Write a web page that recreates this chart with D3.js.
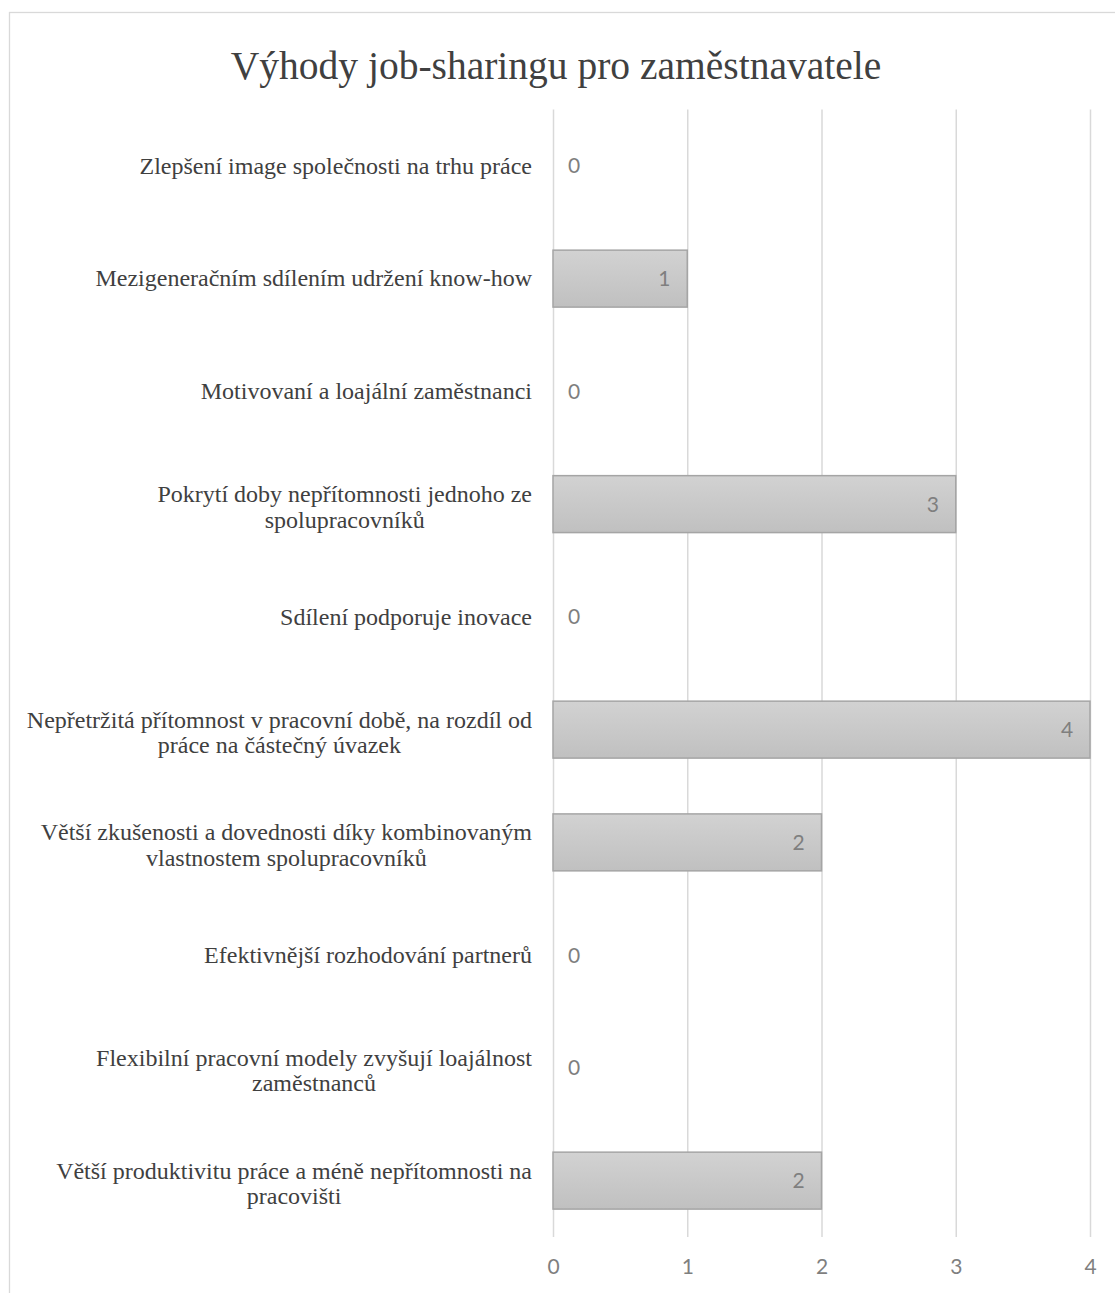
<!DOCTYPE html>
<html>
<head>
<meta charset="utf-8">
<script src="https://cdn.jsdelivr.net/npm/d3@7"></script>
<style>
  html, body { margin: 0; padding: 0; background: #fff; }
  svg { display: block; }
</style>
</head>
<body>
<svg id="chart" width="1115" height="1293"></svg>
<script>
// Category labels, top to bottom; "\n" marks a line break
const categories = [
  "Zlepšení image společnosti na trhu práce",
  "Mezigeneračním sdílením udržení know-how",
  "Motivovaní a loajální zaměstnanci",
  "Pokrytí doby nepřítomnosti jednoho ze\nspolupracovníků",
  "Sdílení podporuje inovace",
  "Nepřetržitá přítomnost v pracovní době, na rozdíl od\npráce na částečný úvazek",
  "Větší zkušenosti a dovednosti díky kombinovaným\nvlastnostem spolupracovníků",
  "Efektivnější rozhodování partnerů",
  "Flexibilní pracovní modely zvyšují loajálnost\nzaměstnanců",
  "Větší produktivitu práce a méně nepřítomnosti na\npracovišti"
];
const values = [0, 1, 0, 3, 0, 4, 2, 0, 0, 2];
const tickValues = [0, 1, 2, 3, 4];
const title = "Výhody job-sharingu pro zaměstnavatele";

const svg = d3.select("#chart");
const serif = "'Liberation Serif', 'Times New Roman', serif";
const sans = "Lato, 'Open Sans', sans-serif";

const plot = { left: 553, right: 1090, top: 109.5, bottom: 1237 };

const x = d3.scaleLinear().domain([0, 4]).range([plot.left, plot.right]);
const y = d3.scaleBand().domain(categories).range([plot.top, plot.bottom]).paddingInner(0.495).paddingOuter(0.2475);

// chart frame
svg.append("rect")
  .attr("x", 9.5).attr("y", 12.5)
  .attr("width", 1200).attr("height", 1400)
  .attr("fill", "#fff").attr("stroke", "#d9d9d9").attr("stroke-width", 1.3);

// title
svg.append("text")
  .attr("x", 556).attr("y", 79)
  .attr("text-anchor", "middle")
  .attr("font-family", serif).attr("font-size", 39.5)
  .attr("fill", "#404040")
  .text(title);

// gradient for bars
const defs = svg.append("defs");
const grad = defs.append("linearGradient").attr("id", "barGrad")
  .attr("x1", 0).attr("y1", 0).attr("x2", 0).attr("y2", 1);
grad.append("stop").attr("offset", "0%").attr("stop-color", "#d2d2d2");
grad.append("stop").attr("offset", "100%").attr("stop-color", "#c0c0c0");

// vertical gridlines via axis
const xAxis = d3.axisBottom(x).tickValues(tickValues).tickFormat(d3.format("d"))
  .tickSize(-(plot.bottom - plot.top)).tickPadding(22);
const gx = svg.append("g")
  .attr("transform", `translate(0,${plot.bottom})`)
  .call(xAxis);
gx.select(".domain").remove();
gx.selectAll(".tick line").attr("stroke", "#d9d9d9").attr("stroke-width", 1.5);
gx.selectAll(".tick text")
  .attr("font-family", sans).attr("font-size", 21)
  .attr("fill", "#7f7f7f");

// bars
svg.append("g").selectAll("rect")
  .data(values)
  .join("rect")
  .attr("x", x(0))
  .attr("y", (d, i) => y(categories[i]))
  .attr("width", d => x(d) - x(0))
  .attr("height", y.bandwidth())
  .attr("fill", "url(#barGrad)")
  .attr("stroke", d => d > 0 ? "#a5a5a5" : "none")
  .attr("stroke-width", 1.5);

// value labels
svg.append("g").selectAll("text")
  .data(values)
  .join("text")
  .attr("x", d => d > 0 ? x(d) - 23 : x(0) + 21)
  .attr("y", (d, i) => y(categories[i]) + y.bandwidth() / 2)
  .attr("dy", "0.36em")
  .attr("text-anchor", "middle")
  .attr("font-family", sans).attr("font-size", 21)
  .attr("fill", "#7f7f7f")
  .text(d => d);

// category labels: block right-aligned, lines centered within it
const labelRight = 532;
const lineH = 25.5;
const cg = svg.append("g");
categories.forEach((c, i) => {
  const lines = c.split("\n");
  const cy = y(c) + y.bandwidth() / 2;
  const t = cg.append("text")
    .attr("font-family", serif).attr("font-size", 24)
    .attr("fill", "#404040")
    .attr("text-anchor", "middle");
  const spans = lines.map((ln, k) => t.append("tspan").text(ln));
  const w = d3.max(spans, s => s.node().getComputedTextLength());
  const cx = labelRight - w / 2;
  spans.forEach((s, k) => {
    s.attr("x", cx).attr("y", cy + (k - (lines.length - 1) / 2) * lineH + (lines.length > 1 ? 3 : 0)).attr("dy", "0.32em");
  });
});
</script>
</body>
</html>
